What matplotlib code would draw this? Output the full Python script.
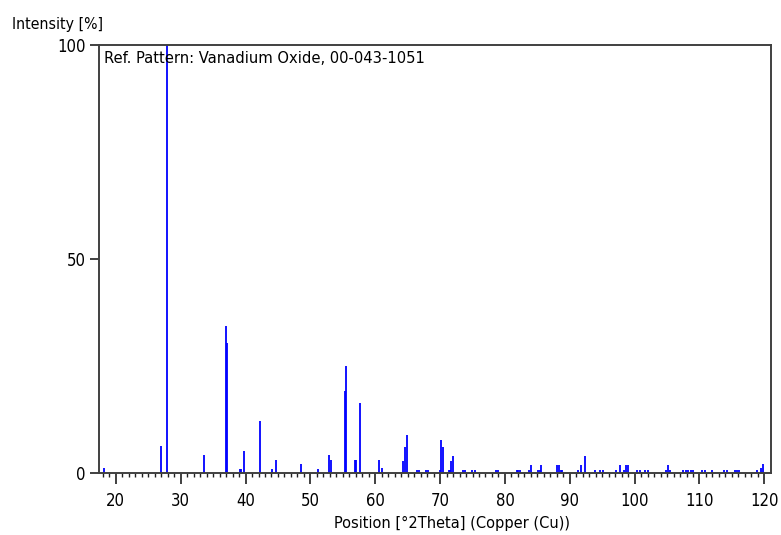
import matplotlib.pyplot as plt
from matplotlib.ticker import MultipleLocator
from matplotlib import font_manager

# ---- Reference pattern: Vanadium Oxide, 00-043-1051 ----
positions = [
    18.1, 26.9, 27.85, 33.6, 37.0, 37.2, 39.1, 39.3, 39.8, 42.3,
    44.1, 44.75, 48.5, 51.2, 52.9, 53.1, 55.3, 55.5, 56.9, 57.1,
    57.6, 60.6, 61.0, 64.3, 64.65, 64.95, 66.5, 66.8, 67.9, 68.2,
    69.95, 70.15, 70.4, 71.3, 71.55, 71.75, 72.0, 73.6, 73.8, 74.95,
    75.45, 78.6, 78.9, 81.8, 82.05, 82.3, 83.7, 83.95, 85.1, 85.35,
    85.6, 88.0, 88.3, 88.6, 88.85, 91.3, 91.7, 92.3, 93.9, 94.7,
    95.1, 97.2, 97.7, 98.4, 98.7, 99.0, 100.3, 100.9, 101.6, 102.1,
    104.8, 105.2, 105.5, 107.4, 107.9, 108.3, 108.7, 109.0, 110.4, 110.8,
    112.0, 113.8, 114.2, 115.5, 115.8, 116.1, 118.9, 119.5, 119.85,
]
intensities = [
    1.0, 6.3, 100.0, 4.0, 34.3, 30.2, 0.9, 0.9, 5.1, 12.0,
    0.9, 3.0, 1.9, 0.8, 4.0, 3.0, 19.0, 25.0, 3.0, 3.0,
    16.2, 3.0, 1.0, 2.7, 5.9, 8.8, 0.7, 0.7, 0.7, 0.7,
    0.7, 7.7, 5.9, 0.7, 0.7, 2.7, 3.9, 0.7, 0.7, 0.7,
    0.7, 0.7, 0.7, 0.7, 0.7, 0.7, 0.7, 1.8, 0.7, 0.7,
    1.8, 1.7, 1.7, 0.6, 0.6, 0.6, 1.7, 3.8, 0.6, 0.6,
    0.6, 0.6, 1.7, 0.6, 1.7, 1.7, 0.6, 0.6, 0.6, 0.6,
    0.6, 1.7, 0.6, 0.6, 0.6, 0.6, 0.6, 0.6, 0.6, 0.6,
    0.6, 0.6, 0.6, 0.6, 0.6, 0.6, 0.6, 1.0, 1.9,
]
x_ticks = [20, 30, 40, 50, 60, 70, 80, 90, 100, 110, 120]
y_ticks = [0, 50, 100]

# narrow face if the system has one, else plain Liberation Sans
names = {f.name for f in font_manager.fontManager.ttflist}
has_condensed = any(f.name == "DejaVu Sans" and f.stretch == "condensed"
                    for f in font_manager.fontManager.ttflist)
if "Liberation Sans Narrow" in names:
    FONT = ["Liberation Sans Narrow", "DejaVu Sans"]
elif has_condensed:
    FONT = ["DejaVu Sans"]
else:
    FONT = ["Liberation Sans", "DejaVu Sans"]

plt.rcParams["font.family"] = FONT
plt.rcParams["font.stretch"] = "condensed"
plt.rcParams["font.size"] = 12

fig = plt.figure(figsize=(7.81, 5.35), dpi=100)
ax = fig.add_axes([99 / 781, 1 - 472.5 / 535, (770.5 - 99) / 781, (472.5 - 45) / 535])

ax.vlines(positions, 0, intensities, colors="#0000ff", linewidth=1.3)

ax.set_xlim(17.4, 120.95)
ax.set_ylim(0, 100)
ax.set_xticks(x_ticks)
ax.xaxis.set_minor_locator(MultipleLocator(1))
ax.set_yticks(y_ticks)

for sp in ax.spines.values():
    sp.set_color("#404040")
    sp.set_linewidth(1.4)

ax.tick_params(axis="x", which="major", length=8, width=1.2, color="#202020", pad=6)
ax.tick_params(axis="x", which="minor", length=3, width=1.0, color="#202020")
ax.tick_params(axis="y", which="major", length=6.5, width=1.2, color="#202020", pad=3)

ax.text(0.007, 0.985, "Ref. Pattern: Vanadium Oxide, 00-043-1051",
        transform=ax.transAxes, ha="left", va="top", fontsize=11.8)

fig.text(12 / 781, 1 - 29 / 535, "Intensity [%]", ha="left", va="baseline", fontsize=11.3)
fig.text(452 / 781, 1 - 528 / 535, "Position [°2Theta] (Copper (Cu))",
         ha="center", va="baseline", fontsize=11.7)

fig.savefig("out.png", dpi=100)
